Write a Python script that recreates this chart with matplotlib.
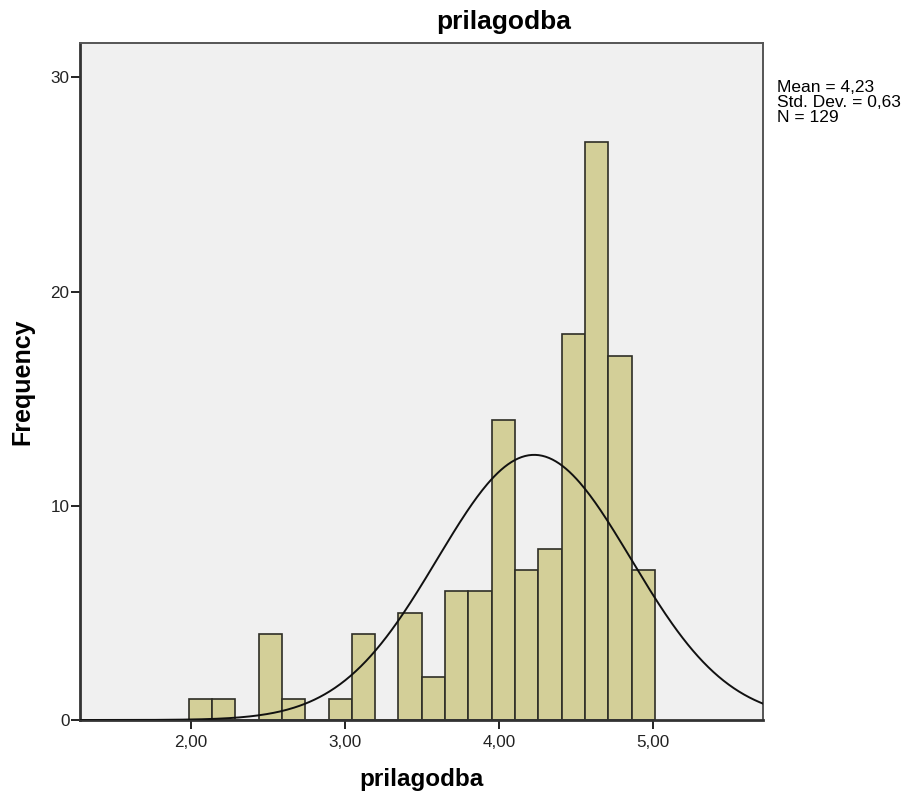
import numpy as np
import matplotlib.pyplot as plt

plt.rcParams.update({"font.family": ["Liberation Sans", "DejaVu Sans"],
                     "font.size": 12})

# Data (histogram counts per bin)
counts = [1, 1, 0, 4, 1, 0, 1, 4, 0, 5, 2, 6, 6, 14, 7, 8, 18, 27, 17, 7]
bin_start = 1.985
bin_width = 0.1515
mean = 4.23
sd = 0.63
n = 129
xticks = [2, 3, 4, 5]
xticklabels = ["2,00", "3,00", "4,00", "5,00"]
yticks = [0, 10, 20, 30]

edges = bin_start + bin_width * np.arange(len(counts) + 1)

fig = plt.figure(figsize=(9.06, 7.96), dpi=100)
ax = fig.add_axes([80 / 906, 76 / 796, 683 / 906, 677 / 796])
ax.set_facecolor("#f0f0f0")

ax.bar(edges[:-1], counts, width=bin_width, align="edge",
       color="#d3cf98", edgecolor="#2e2e26", linewidth=1.2, zorder=2)

xs = np.linspace(1.279, 5.717, 400)
ys = n * bin_width / (sd * np.sqrt(2 * np.pi)) * np.exp(-0.5 * ((xs - mean) / sd) ** 2)
ax.plot(xs, ys, color="#111111", linewidth=1.4, zorder=3)

ax.set_xlim(1.279, 5.717)
ax.set_ylim(0, 31.6)
ax.set_xticks(xticks)
ax.set_xticklabels(xticklabels)
ax.set_yticks(yticks)
ax.tick_params(direction="out", length=6.5, width=1.4, colors="#222222",
               labelsize=12.3)
ax.tick_params(axis="x", pad=4)
ax.tick_params(axis="y", pad=1)

for s in ["left", "bottom"]:
    ax.spines[s].set_color("#333333")
    ax.spines[s].set_linewidth(2)
for s in ["top", "right"]:
    ax.spines[s].set_color("#555555")
    ax.spines[s].set_linewidth(1.4)

fig.text(504 / 906, 1 - 22 / 796, "prilagodba", fontsize=19,
         fontweight="bold", ha="center", va="center")
ax.set_xlabel("prilagodba", fontsize=17.5, fontweight="bold", labelpad=13)
ax.set_ylabel("Frequency", fontsize=18, fontweight="bold", labelpad=12)

stats = f"Mean = {mean:.2f}\nStd. Dev. = {sd:.2f}\nN = {n}".replace(".", ",")
stats = stats.replace("Std, Dev,", "Std. Dev.")
fig.text(777 / 906, 1 - 80 / 796, stats, fontsize=12.5, va="top", ha="left",
         linespacing=1.0)

fig.savefig("out.png", dpi=100)
